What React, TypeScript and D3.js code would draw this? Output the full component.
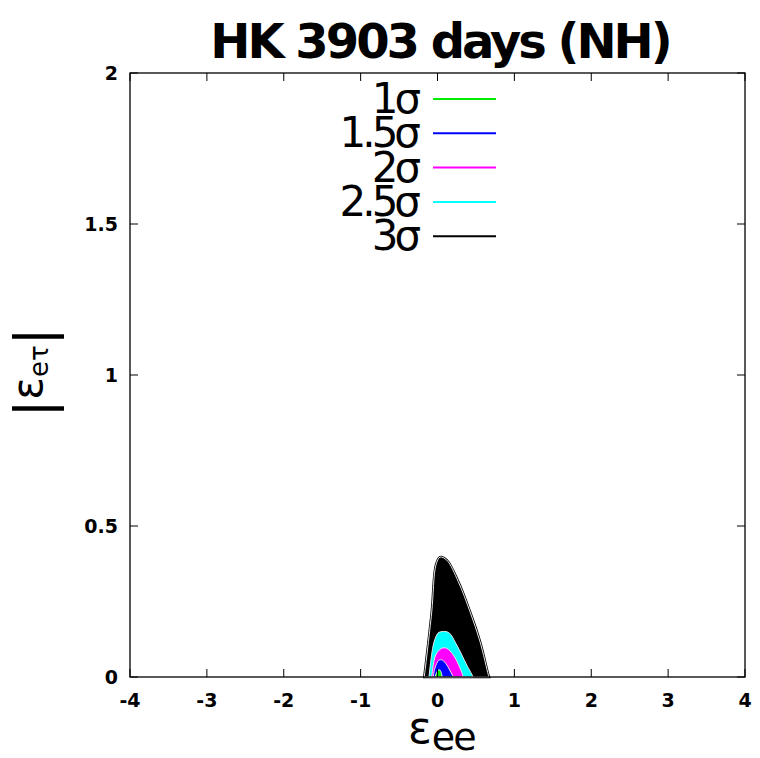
import React from "react";
import * as d3 from "d3";

// chart values
const title = "HK 3903 days (NH)";
const xTicks = [-4, -3, -2, -1, 0, 1, 2, 3, 4];
const yTicks = [0, 0.5, 1, 1.5, 2];
const yTickLabels = ["0", "0.5", "1", "1.5", "2"];

const levelNames = ["1σ", "1.5σ", "2σ", "2.5σ", "3σ"];
const levelColors = ["#00ee00", "#0000ff", "#ff00ff", "#00ffff", "#000000"];

// contour outlines [eps_ee, |eps_etau|], one per level
const contour1 = [[-0.033, 0], [0.01, 0.023], [0.033, 0.023], [0.062, 0]];
const contour15 = [[-0.055, 0], [-0.033, 0.03], [0.02, 0.056], [0.062, 0.056], [0.12, 0.04], [0.205, 0]];
const contour2 = [[-0.075, 0], [-0.023, 0.073], [0.055, 0.095], [0.12, 0.095], [0.205, 0.073], [0.293, 0.03], [0.336, 0]];
const contour25 = [[-0.111, 0], [-0.055, 0.106], [-0.01, 0.139], [0.02, 0.148], [0.14, 0.148], [0.25, 0.106], [0.38, 0.04], [0.466, 0]];
const contour3 = [[-0.172, 0], [-0.075, 0.215], [-0.02, 0.371], [0.033, 0.397], [0.12, 0.387], [0.27, 0.316], [0.423, 0.216], [0.553, 0.117], [0.661, 0.007], [0.67, 0]];

const contours = [contour1, contour15, contour2, contour25, contour3];

const width = 760;
const height = 758;
const margin = { top: 73, right: 15, bottom: 81, left: 130 };
const font = "DejaVu Sans, sans-serif";

const App = () => {
  const x = d3.scaleLinear().domain([-4, 4]).range([margin.left, width - margin.right]);
  const y = d3.scaleLinear().domain([0, 2]).range([height - margin.bottom, margin.top]);

  const line = d3
    .line<number[]>()
    .x((d) => x(d[0]))
    .y((d) => y(d[1]))
    .curve(d3.curveCatmullRom.alpha(0.5));

  const x0 = margin.left;
  const x1 = width - margin.right;
  const y0 = height - margin.bottom;
  const y1 = margin.top;
  const tick = 8;

  // draw the biggest region first so the inner ones sit on top
  const order = [4, 3, 2, 1, 0];

  return (
    <svg
      width={width}
      height={height}
      style={{ position: "absolute", left: 0, top: 0, background: "#fff" }}
      fontFamily={font}
    >
      <rect width={width} height={height} fill="#fff" />

      {/* title */}
      <text
        x={440}
        y={58}
        textAnchor="middle"
        fontSize={48}
        fontWeight="bold"
        letterSpacing={-3}
      >
        {title}
      </text>

      {/* filled contours */}
      {order.map((i) => (
        <g key={levelNames[i]}>
          {i === 4 && <path d={line(contours[i])! + "Z"} fill="#000" stroke="#000" strokeWidth={2.5} />}
          <path
            d={line(contours[i])! + "Z"}
            fill={levelColors[i]}
            stroke="#e8e8e8"
            strokeWidth={1}
            strokeLinejoin="round"
          />
        </g>
      ))}

      {/* frame */}
      <rect x={x0} y={y1} width={x1 - x0} height={y0 - y1} fill="none" stroke="#000" strokeWidth={1.3} />

      {/* x ticks */}
      {xTicks.map((t) => (
        <g key={"x" + t}>
          <line x1={x(t)} x2={x(t)} y1={y0} y2={y0 - tick} stroke="#000" />
          <line x1={x(t)} x2={x(t)} y1={y1} y2={y1 + tick} stroke="#000" />
          <text x={x(t)} y={707} textAnchor="middle" fontSize={19} fontWeight="bold">
            {t}
          </text>
        </g>
      ))}

      {/* y ticks */}
      {yTicks.map((t, i) => (
        <g key={"y" + t}>
          <line x1={x0} x2={x0 + tick} y1={y(t)} y2={y(t)} stroke="#000" />
          <line x1={x1} x2={x1 - tick} y1={y(t)} y2={y(t)} stroke="#000" />
          <text x={118} y={y(t) + 7} textAnchor="end" fontSize={19} fontWeight="bold">
            {yTickLabels[i]}
          </text>
        </g>
      ))}

      {/* legend */}
      {levelNames.map((name, i) => (
        <g key={"leg" + name}>
          <text x={417} y={113 + i * 34.3} textAnchor="end" fontSize={42} letterSpacing={-4}>
            {name}
          </text>
          <line
            x1={433}
            x2={496}
            y1={99 + i * 34.3}
            y2={99 + i * 34.3}
            stroke={levelColors[i]}
            strokeWidth={2}
          />
        </g>
      ))}

      {/* x label */}
      <text x={408} y={743} fontSize={44}>
        ε
        <tspan fontSize={38} dy={7} letterSpacing={-2}>
          ee
        </tspan>
      </text>

      {/* y label */}
      <text transform="translate(51,372.5) rotate(-90)" textAnchor="middle">
        <tspan fontSize={52}>|</tspan>
        <tspan fontSize={42} dy={-9}>
          ε
        </tspan>
        <tspan fontSize={26} dy={6}>
          eτ
        </tspan>
        <tspan fontSize={52} dy={3}>
          |
        </tspan>
      </text>
    </svg>
  );
};

export default App;
